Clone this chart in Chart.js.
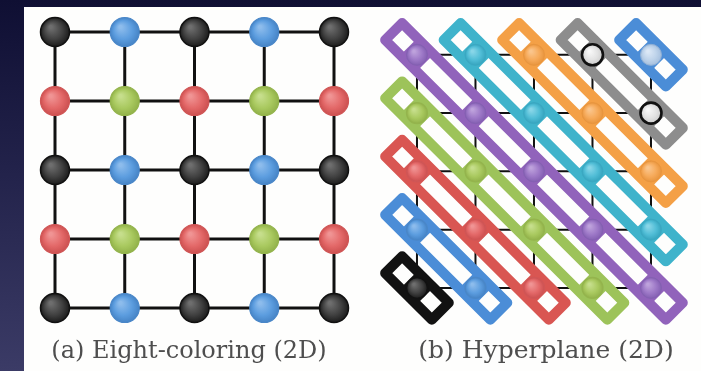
<!DOCTYPE html>
<html>
<head>
<meta charset="utf-8">
<script src="https://cdn.jsdelivr.net/npm/chart.js@4.4.1/dist/chart.umd.min.js"></script>
<style>
  html, body { margin: 0; padding: 0; }
  body {
    width: 701px; height: 371px; overflow: hidden; position: relative;
    background: linear-gradient(180deg, #0f0f33 0%, #22224a 45%, #3b3b66 100%);
  }
  #sheet { position: absolute; left: 24px; top: 7px; width: 677px; height: 364px; background: #fefefd; }
  #chartA { position: absolute; left: 24px; top: 7px; }
  #chartB { position: absolute; left: 364px; top: 7px; }
</style>
</head>
<body>
<div id="sheet"></div>
<canvas id="chartA" width="340" height="364"></canvas>
<canvas id="chartB" width="337" height="364"></canvas>
<script>
// ---- lattice and colourings ----
const gridCols = [0, 1, 2, 3, 4];
const gridRows = [0, 1, 2, 3, 4];

// (a) colour class of every node, listed row by row from the top
const eightColoring = [
  ['black', 'blue',  'black', 'blue',  'black'],
  ['red',   'green', 'red',   'green', 'red'],
  ['black', 'blue',  'black', 'blue',  'black'],
  ['red',   'green', 'red',   'green', 'red'],
  ['black', 'blue',  'black', 'blue',  'black']
];

// (b) hyperplanes col - row = offset, one colour class each
const hyperplaneOffsets = [-4, -3, -2, -1, 0, 1, 2, 3, 4];
const hyperplaneColors  = ['black', 'blue', 'red', 'green', 'purple', 'cyan', 'orange', 'gray', 'pale'];

const captionA = '(a) Eight-coloring (2D)';
const captionB = '(b) Hyperplane (2D)';

// ---- styling ----
const nodeStyle = {
  black:  { base: '#404040', hi: '#6e6e6e', edge: '#1c1c1c', ring: '#111111', ringW: 1.5 },
  blue:   { base: '#5c9ddf', hi: '#8dbcec', edge: '#4684c6', ring: '#4a87c8', ringW: 1.2 },
  red:    { base: '#e36868', hi: '#f09494', edge: '#cc5050', ring: '#d05656', ringW: 1.2 },
  green:  { base: '#a9c95f', hi: '#c6de8c', edge: '#92b24a', ring: '#94b44d', ringW: 1.2 },
  purple: { base: '#9d78c7', hi: '#bea2dc', edge: '#8460b2', ring: '#8460b2', ringW: 1.0 },
  cyan:   { base: '#50bdd6', hi: '#88d6e8', edge: '#36a4be', ring: '#3aa8c2', ringW: 1.0 },
  orange: { base: '#f6aa5a', hi: '#fac58c', edge: '#e8953e', ring: '#e8953e', ringW: 1.0 },
  gray:   { base: '#e2e2e2', hi: '#f8f8f8', edge: '#cccccc', ring: '#111111', ringW: 2.6 },
  pale:   { base: '#bed3ea', hi: '#dce8f6', edge: '#a6c0de', ring: '#8fb0d6', ringW: 1.0 }
};
const bandColor = {
  black: '#121212', blue: '#4b8dd7', red: '#d95652', green: '#9dc35a', purple: '#9163bb',
  cyan: '#3fb3cb', orange: '#f4a046', gray: '#8d8d8d', pale: '#4b8dd7'
};
const paper = '#fefefd';
const serif = '"DejaVu Serif", "Liberation Serif", serif';

function sphereFill(classOf, radius) {
  return (ctx) => {
    const s = nodeStyle[classOf(ctx.dataIndex)];
    if (ctx.type !== 'data' || !ctx.parsed) return s.base;
    const ch = ctx.chart;
    const px = ch.scales.x.getPixelForValue(ctx.parsed.x);
    const py = ch.scales.y.getPixelForValue(ctx.parsed.y);
    if (!isFinite(px) || !isFinite(py)) return s.base;
    const g = ch.ctx.createRadialGradient(px - radius * 0.3, py - radius * 0.35, radius * 0.1, px, py, radius);
    g.addColorStop(0, s.hi);
    g.addColorStop(0.6, s.base);
    g.addColorStop(1, s.edge);
    return g;
  };
}

function segment(data, color, width, cap, order) {
  return {
    data, showLine: true, borderColor: color, borderWidth: width,
    pointRadius: 0, borderCapStyle: cap, fill: false, clip: false, order
  };
}

function latticeEdges(width, order) {
  const sets = [];
  const c0 = gridCols[0], c1 = gridCols[gridCols.length - 1];
  const r0 = gridRows[0], r1 = gridRows[gridRows.length - 1];
  gridRows.forEach(r => sets.push(segment([{ x: c0, y: r }, { x: c1, y: r }], '#111111', width, 'butt', order)));
  gridCols.forEach(c => sets.push(segment([{ x: c, y: r0 }, { x: c, y: r1 }], '#111111', width, 'butt', order)));
  return sets;
}

function titleFor(text, size) {
  return {
    display: true, text, position: 'bottom', color: '#4e4e4e',
    font: { family: serif, size, weight: 'normal', lineHeight: 1.2 },
    padding: { top: 12, bottom: 5 }
  };
}

const basePlugins = { legend: { display: false }, tooltip: { enabled: false } };

// ---- (a) eight-coloring lattice ----
const nodesA = [], classesA = [];
gridRows.forEach(r => gridCols.forEach(c => { nodesA.push({ x: c, y: r }); classesA.push(eightColoring[r][c]); }));
const radiusA = 14.5;

new Chart(document.getElementById('chartA'), {
  type: 'scatter',
  data: {
    datasets: [
      {
        data: nodesA, showLine: false, clip: false, order: 0,
        pointRadius: radiusA,
        pointBackgroundColor: sphereFill(i => classesA[i], radiusA),
        pointBorderColor: (ctx) => nodeStyle[classesA[ctx.dataIndex]].ring,
        pointBorderWidth: (ctx) => nodeStyle[classesA[ctx.dataIndex]].ringW
      },
      ...latticeEdges(3, 1)
    ]
  },
  options: {
    responsive: false, animation: false, events: [],
    layout: { autoPadding: false, padding: { left: 0, right: 10, top: 0, bottom: 0 } },
    scales: {
      x: { type: 'linear', display: false, min: -0.4444, max: 4.2867 },
      y: { type: 'linear', display: false, reverse: true, min: -0.3623, max: 4.2493 }
    },
    plugins: { ...basePlugins, title: titleFor(captionA, 24) }
  }
});

// ---- (b) hyperplane bands ----
const R2 = Math.SQRT1_2;
const unitB = 58.5;                 // pixels per lattice step in panel (b)
const bandHalfLen = 33 / unitB;     // frame centre beyond the end nodes, along the diagonal
const bandHalfWid = 12 / unitB;     // frame centre off the diagonal
const bandStroke = 10;
const barStroke = 23;

const nodesB = [], classesB = [];
gridRows.forEach(r => gridCols.forEach(c => {
  nodesB.push({ x: c, y: r });
  classesB.push(hyperplaneColors[hyperplaneOffsets.indexOf(c - r)]);
}));
const radiusB = 10.5;

const frameSets = [], paperSets = [], barSets = [];
hyperplaneOffsets.forEach((d, k) => {
  const members = nodesB.filter(p => p.x - p.y === d).sort((a, b) => a.x - b.x);
  const A = members[0], B = members[members.length - 1];
  const e = bandHalfLen * R2, w = bandHalfWid * R2;
  const color = bandColor[hyperplaneColors[k]];
  const outline = [
    { x: A.x - e + w, y: A.y - e - w },
    { x: B.x + e + w, y: B.y + e - w },
    { x: B.x + e - w, y: B.y + e + w },
    { x: A.x - e - w, y: A.y - e + w },
    { x: A.x - e + w, y: A.y - e - w }
  ];
  frameSets.push({
    data: outline, showLine: true, fill: false,
    borderColor: color, borderWidth: bandStroke, borderJoinStyle: 'round', borderCapStyle: 'round',
    pointRadius: 0, tension: 0, clip: false, order: 2
  });
  // blank interior of the band, hiding the lattice edges underneath
  paperSets.push(segment([{ x: A.x - e, y: A.y - e }, { x: B.x + e, y: B.y + e }],
    paper, bandHalfWid * 2 * unitB, 'butt', 2.5));
  // solid block across the band at every node
  members.forEach(p => {
    barSets.push(segment([{ x: p.x + w, y: p.y - w }, { x: p.x - w, y: p.y + w }], color, barStroke, 'butt', 1));
  });
});

new Chart(document.getElementById('chartB'), {
  type: 'scatter',
  data: {
    datasets: [
      {
        data: nodesB, showLine: false, clip: false, order: 0,
        pointRadius: radiusB,
        pointBackgroundColor: sphereFill(i => classesB[i], radiusB),
        pointBorderColor: (ctx) => nodeStyle[classesB[ctx.dataIndex]].ring,
        pointBorderWidth: (ctx) => nodeStyle[classesB[ctx.dataIndex]].ringW
      },
      ...barSets,
      ...frameSets,
      ...paperSets,
      ...latticeEdges(2, 3)
    ]
  },
  options: {
    responsive: false, animation: false, events: [],
    layout: { autoPadding: false, padding: { left: 27, right: 0, top: 0, bottom: 0 } },
    scales: {
      x: { type: 'linear', display: false, min: -0.444, max: 4.855 },
      y: { type: 'linear', display: false, reverse: true, min: -0.8205, max: 4.619 }
    },
    plugins: { ...basePlugins, title: titleFor(captionB, 25) }
  }
});
</script>
</body>
</html>
